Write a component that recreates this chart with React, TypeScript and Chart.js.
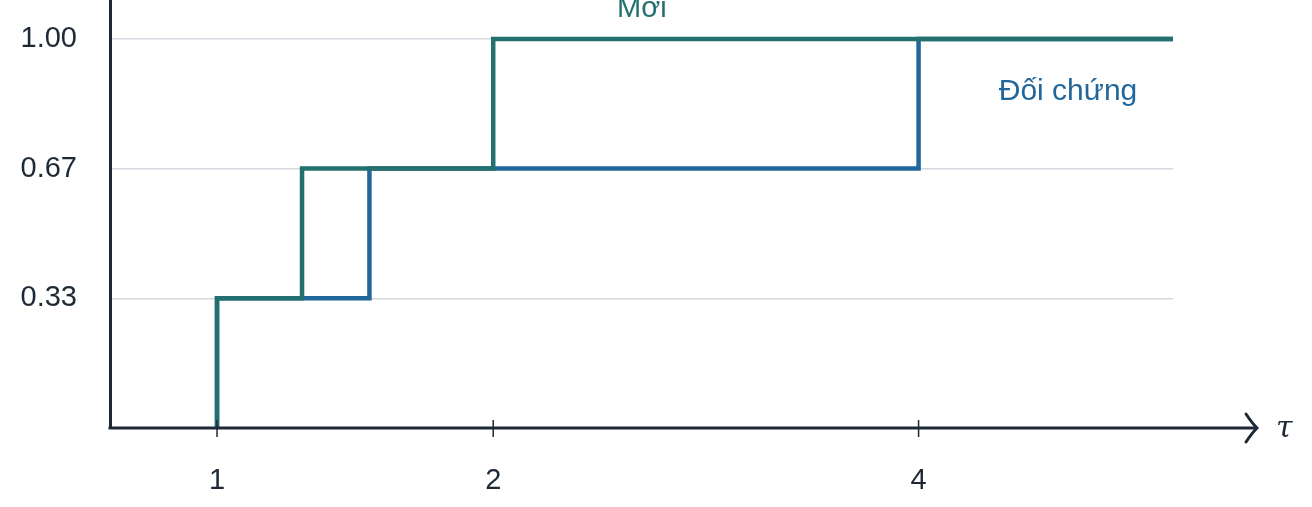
import { useEffect, useRef } from 'react';
import { Chart, LinearScale, registerables } from 'chart.js';

// performance profile: share of problems solved within a factor tau of the best
const TAU_MAX = 5.43;
const TAU_TICKS = [1, 2, 4];
const RHO_TICKS = [1 / 3, 2 / 3, 1];

const NEW_TAU = [1, 1, 1.28, 2, TAU_MAX];
const NEW_RHO = [0, 1 / 3, 2 / 3, 1, 1];

const CTRL_TAU = [1, 1, 1.52, 4, TAU_MAX];
const CTRL_RHO = [0, 1 / 3, 2 / 3, 1, 1];

const SERIES_NAMES = ['Mới', 'Đối chứng'];

const TEAL = '#24706f';
const BLUE = '#21679b';
const INK = '#1e2935';
const GRID = '#d4d9df';
const FONT = '"Liberation Sans", Arial, sans-serif';

// the x axis is compressed by a power law
const X_EXP = 0.623;

class PowerScale extends LinearScale {
    static id = 'power';
    static defaults = LinearScale.defaults;

    getPixelForValue(value: number) {
        const a = Math.pow(this.min, X_EXP);
        const b = Math.pow(this.max, X_EXP);
        return this.getPixelForDecimal((Math.pow(value, X_EXP) - a) / (b - a));
    }

    getValueForPixel(pixel: number) {
        const a = Math.pow(this.min, X_EXP);
        const b = Math.pow(this.max, X_EXP);
        const d = this.getDecimalForPixel(pixel);
        return Math.pow(a + d * (b - a), 1 / X_EXP);
    }
}

Chart.register(...registerables, PowerScale);

const axisExtras = {
    id: 'axisExtras',
    afterDraw(chart: any) {
        const { ctx, chartArea, scales } = chart;
        const x = scales.x;
        const y = scales.y;
        const y0 = y.getPixelForValue(0);
        const tipX = 1257;

        ctx.save();
        ctx.strokeStyle = INK;
        ctx.lineWidth = 3;
        ctx.beginPath();
        ctx.moveTo(chartArea.left - 1.5, y0);
        ctx.lineTo(tipX - 1, y0);
        ctx.stroke();

        // arrow head
        ctx.lineCap = 'round';
        ctx.beginPath();
        ctx.moveTo(tipX - 11, y0 - 14);
        ctx.quadraticCurveTo(tipX - 5, y0 - 5, tipX, y0);
        ctx.quadraticCurveTo(tipX - 5, y0 + 5, tipX - 11, y0 + 14);
        ctx.stroke();

        // small tick marks crossing the axis
        ctx.lineCap = 'butt';
        ctx.lineWidth = 1.5;
        TAU_TICKS.forEach((t) => {
            const px = x.getPixelForValue(t);
            ctx.beginPath();
            ctx.moveTo(px, y0 - 8);
            ctx.lineTo(px, y0 + 9);
            ctx.stroke();
        });

        ctx.fillStyle = INK;
        ctx.font = 'italic 30px "DejaVu Serif", "Liberation Serif", serif';
        ctx.textAlign = 'left';
        ctx.textBaseline = 'middle';
        ctx.fillText('τ', 1276, y0 + 1);

        // series names next to the curves
        ctx.textAlign = 'center';
        ctx.textBaseline = 'alphabetic';
        ctx.font = `29px ${FONT}`;
        ctx.fillStyle = TEAL;
        ctx.fillText(SERIES_NAMES[0], x.getPixelForValue(2.64), y.getPixelForValue(1.056));
        ctx.font = `30px ${FONT}`;
        ctx.fillStyle = BLUE;
        ctx.fillText(SERIES_NAMES[1], x.getPixelForValue(4.82), y.getPixelForValue(0.843));
        ctx.restore();
    },
};

const ProfileChart = () => {
    const chartRef = useRef<HTMLCanvasElement | null>(null);
    const chartInstance = useRef<Chart | null>(null);

    useEffect(() => {
        if (chartRef.current) {
            if (chartInstance.current) {
                chartInstance.current.destroy();
            }

            chartInstance.current = new Chart(chartRef.current, {
                type: 'line',
                data: {
                    datasets: [
                        {
                            label: SERIES_NAMES[0],
                            data: NEW_TAU.map((t, i) => ({ x: t, y: NEW_RHO[i] })),
                            borderColor: TEAL,
                            borderWidth: 4.5,
                            stepped: 'before',
                            pointRadius: 0,
                            fill: false,
                        },
                        {
                            label: SERIES_NAMES[1],
                            data: CTRL_TAU.map((t, i) => ({ x: t, y: CTRL_RHO[i] })),
                            borderColor: BLUE,
                            borderWidth: 4.5,
                            stepped: 'before',
                            pointRadius: 0,
                            fill: false,
                        },
                    ],
                },
                options: {
                    animation: false,
                    responsive: true,
                    maintainAspectRatio: false,
                    clip: false,
                    layout: {
                        padding: { top: 0, right: 139, bottom: 0, left: 0 },
                    },
                    plugins: {
                        legend: { display: false },
                        tooltip: { enabled: false },
                    },
                    scales: {
                        x: {
                            type: 'power' as any,
                            min: 0.686,
                            max: TAU_MAX,
                            bounds: 'data',
                            afterBuildTicks: (scale: any) => {
                                scale.ticks = TAU_TICKS.map((v) => ({ value: v }));
                            },
                            afterFit: (scale: any) => {
                                scale.height = 79;
                                scale.paddingLeft = 0;
                                scale.paddingRight = 0;
                            },
                            grid: { display: false, drawTicks: false },
                            border: { display: false },
                            ticks: {
                                padding: 36,
                                autoSkip: false,
                                maxRotation: 0,
                                color: INK,
                                font: { family: FONT, size: 29 },
                                callback: (v: any) => String(v),
                            },
                        },
                        y: {
                            type: 'linear',
                            min: 0,
                            max: 1.1,
                            bounds: 'data',
                            afterBuildTicks: (scale: any) => {
                                scale.ticks = RHO_TICKS.map((v) => ({ value: v }));
                            },
                            afterFit: (scale: any) => {
                                scale.width = 110;
                                scale.paddingTop = 0;
                                scale.paddingBottom = 0;
                            },
                            grid: { color: GRID, lineWidth: 1.5, drawTicks: false },
                            border: { display: true, color: INK, width: 3 },
                            ticks: {
                                padding: 33,
                                color: INK,
                                font: { family: FONT, size: 29 },
                                callback: (v: any) => Number(v).toFixed(2),
                            },
                        },
                    },
                },
                plugins: [axisExtras],
            });
        }

        return () => {
            if (chartInstance.current) {
                chartInstance.current.destroy();
                chartInstance.current = null;
            }
        };
    }, []);

    return (
        <div style={{ position: 'fixed', left: 0, top: 0, width: 1312, height: 507, background: '#fff' }}>
            <canvas ref={chartRef}></canvas>
        </div>
    );
};

export default function App() {
    return <ProfileChart />;
}
